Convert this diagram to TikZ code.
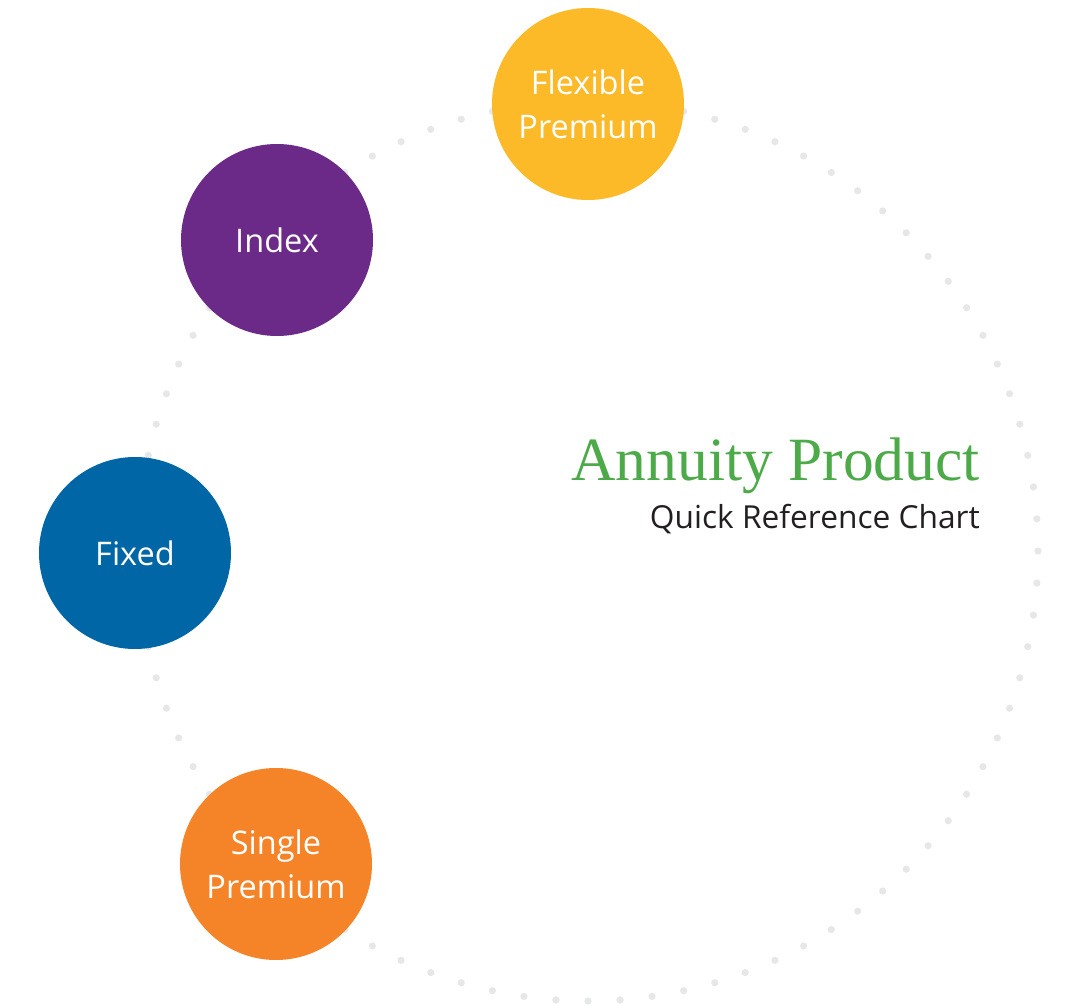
\documentclass[tikz,border=0pt]{standalone}
\usepackage{fontspec}
\usetikzlibrary{calc}
\setmainfont{Open Sans}
\newfontfamily\titlefont{Liberation Serif}
\definecolor{dotgray}{HTML}{E6E7E8}
\definecolor{flexyellow}{HTML}{FCB928}
\definecolor{indexpurple}{HTML}{6C2A88}
\definecolor{fixedblue}{HTML}{0066A6}
\definecolor{singleorange}{HTML}{F58428}
\definecolor{titlegreen}{HTML}{4CAA48}
\definecolor{subtitleink}{HTML}{231F20}
\begin{document}
\begin{tikzpicture}[x=1pt,y=-1pt,
  bubble/.style={circle, minimum size=192pt, inner sep=0pt, text=white,
    align=center, font=\fontsize{32.5}{44}\selectfont},
  ringdot/.style={fill=dotgray, draw=none}]
\useasboundingbox (0,0) rectangle (1066,1008);
% dotted ring behind the product bubbles
\coordinate (hub) at (588,551);
\foreach \k in {0,...,87}{
  \pgfmathsetmacro\ang{\k*4.090909}
  \fill[ringdot] ($(hub)+(\ang:450)$) circle (3.6pt);
}
% product bubbles
\node[bubble, fill=flexyellow] (flex) at (588,104) {Flexible\\Premium};
\node[bubble, fill=indexpurple] (index) at (277,240) {Index};
\node[bubble, fill=fixedblue] (fixed) at (135,553) {Fixed};
\node[bubble, fill=singleorange] (single) at (276,864) {Single\\Premium};
% title block
\node[anchor=base east, inner sep=0pt, text=titlegreen,
  font=\titlefont\fontsize{61.5}{64}\selectfont] (title) at (980,480) {Annuity Product};
\node[anchor=base east, inner sep=0pt, text=subtitleink,
  font=\fontsize{31.7}{38}\selectfont] (subtitle) at (980,528) {Quick Reference Chart};
\end{tikzpicture}
\end{document}
